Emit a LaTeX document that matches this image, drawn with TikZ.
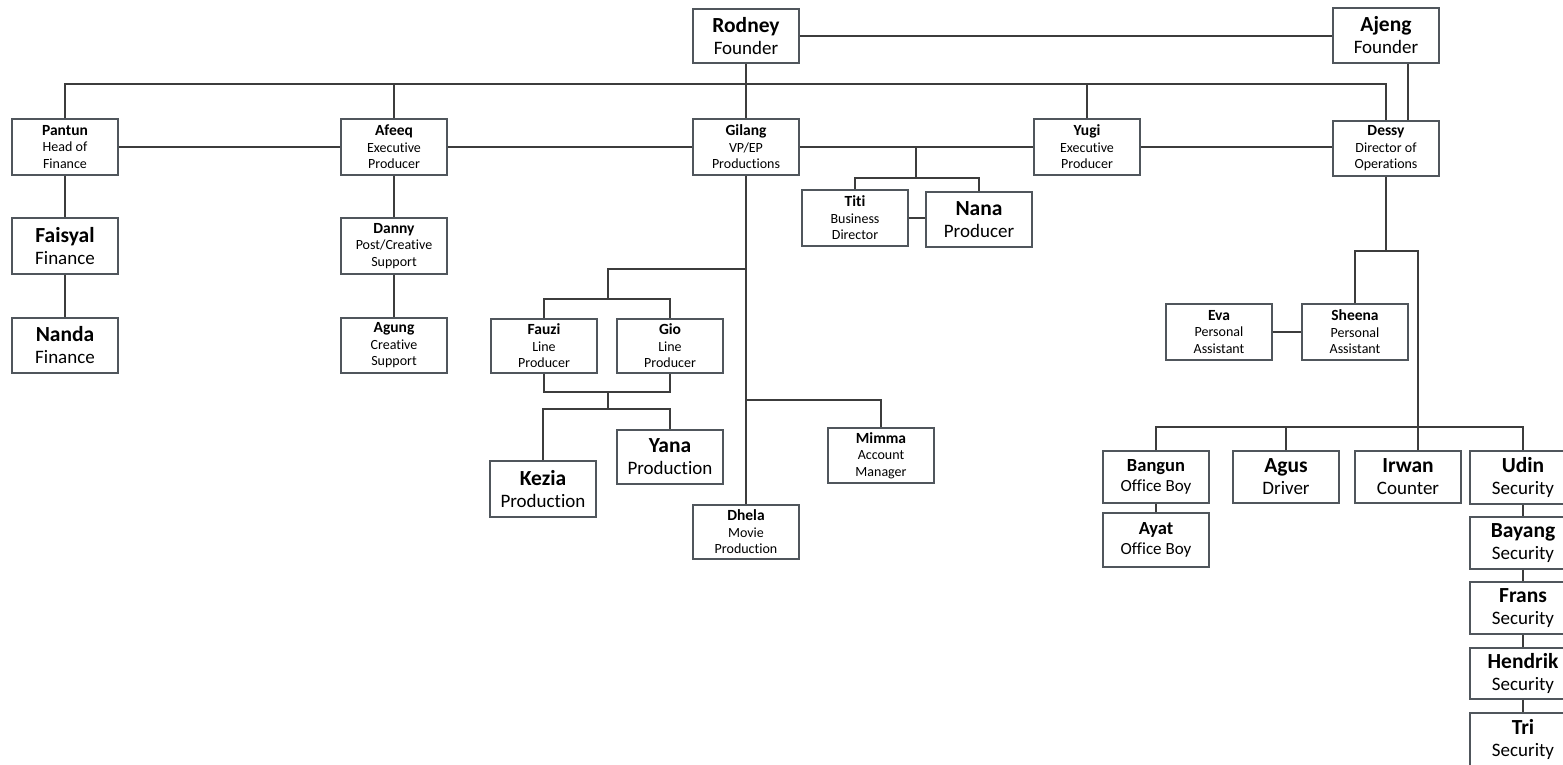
\documentclass[tikz,border=0pt]{standalone}
\usepackage{fontspec}
\setmainfont{Carlito}[Ligatures=NoCommon]
\definecolor{linec}{HTML}{3C3C3C}
\definecolor{boxc}{HTML}{50565C}
\newcommand\snm[1]{{\fontsize{15.5}{16.5}\selectfont\bfseries #1}}
\newcommand\bnm[1]{{\fontsize{21.5}{22}\selectfont\bfseries #1}}
\newcommand\mnm[1]{{\fontsize{18.5}{20}\selectfont\bfseries #1}}
\begin{document}
\begin{tikzpicture}[x=1pt,y=-1pt,
  conn/.style={draw=linec,line width=1.5pt},
  basebox/.style={draw=boxc,line width=1.4pt,rectangle,inner sep=0pt,
    minimum width=106pt,minimum height=55pt,align=center,text=black},
  sbox/.style={basebox,font=\fontsize{14}{16.5}\selectfont},
  bbox/.style={basebox,font=\fontsize{19}{22}\selectfont},
  mbox/.style={basebox,font=\fontsize{17}{20.5}\selectfont,minimum height=52pt},
  rbox/.style={basebox,font=\fontsize{19}{22}\selectfont,minimum height=52pt}
]
\fill[white] (0,0) rectangle (1563,764);
\clip (0,0) rectangle (1563,764);
\useasboundingbox (0,0) rectangle (1563,764);

% top
\node[bbox,minimum height=54pt] (Rodney) at (746,36) {\bnm{Rodney}\\Founder};
\node[bbox] (Ajeng) at (1386,35.5) {\bnm{Ajeng}\\Founder};

% second row
\node[sbox,minimum height=56pt] (Pantun) at (65,147) {\snm{Pantun}\\Head of\\Finance};
\node[sbox,minimum height=56pt] (Afeeq) at (394,147) {\snm{Afeeq}\\Executive\\Producer};
\node[sbox,minimum height=56pt] (Gilang) at (746,147) {\snm{Gilang}\\VP/EP\\Productions};
\node[sbox,minimum height=56pt] (Yugi) at (1087,147) {\snm{Yugi}\\Executive\\Producer};
\node[sbox] (Dessy) at (1386,148.5) {\snm{Dessy}\\Director of\\Operations};

% finance
\node[bbox,minimum height=56pt] (Faisyal) at (65,246) {\bnm{Faisyal}\\Finance};
\node[bbox] (Nanda) at (65,345.5) {\bnm{Nanda}\\Finance};

% Afeeq team
\node[sbox,minimum height=56pt] (Danny) at (394,246) {\snm{Danny}\\Post/Creative\\Support};
\node[sbox] (Agung) at (394,345.5) {\snm{Agung}\\Creative\\Support};

% Titi / Nana
\node[sbox,minimum height=56pt] (Titi) at (855,218) {\snm{Titi}\\Business\\Director};
\node[bbox] (Nana) at (979,219.5) {\bnm{Nana}\\Producer};

% production
\node[sbox,minimum height=54pt] (Fauzi) at (544,346) {\snm{Fauzi}\\Line\\Producer};
\node[sbox,minimum height=54pt] (Gio) at (670,346) {\snm{Gio}\\Line\\Producer};
\node[bbox,minimum height=56pt] (Kezia) at (543,489) {\bnm{Kezia}\\Production};
\node[bbox,minimum height=54pt] (Yana) at (670,457) {\bnm{Yana}\\Production};
\node[sbox] (Mimma) at (881,455.5) {\snm{Mimma}\\Account\\Manager};
\node[sbox,minimum height=54pt] (Dhela) at (746,532) {\snm{Dhela}\\Movie\\Production};

% operations
\node[sbox,minimum height=56pt] (Eva) at (1219,332) {\snm{Eva}\\Personal\\Assistant};
\node[sbox,minimum height=56pt] (Sheena) at (1355,332) {\snm{Sheena}\\Personal\\Assistant};

\node[mbox] (Bangun) at (1156,477) {\mnm{Bangun}\\Office Boy};
\node[mbox,minimum height=54pt] (Ayat) at (1156,540) {\mnm{Ayat}\\Office Boy};
\node[rbox] (Agus) at (1286,477) {\bnm{Agus}\\Driver};
\node[rbox] (Irwan) at (1408,477) {\bnm{Irwan}\\Counter};
\node[rbox,minimum height=53pt] (Udin) at (1523,477.5) {\bnm{Udin}\\Security};
\node[rbox] (Bayang) at (1523,543) {\bnm{Bayang}\\Security};
\node[rbox] (Frans) at (1523,608) {\bnm{Frans}\\Security};
\node[rbox,minimum height=51pt] (Hendrik) at (1523,673.5) {\bnm{Hendrik}\\Security};
\node[rbox,minimum height=53pt] (Tri) at (1523,739.5) {\bnm{Tri}\\Security};

% coordinates
\coordinate (busR) at (1386,84);
\coordinate (tn) at (916,147);
\coordinate (tnj) at (916,178);
\coordinate (fg1) at (746,269);
\coordinate (fg2) at (608,299);
\coordinate (fg3) at (608,392);
\coordinate (fg4) at (608,409);
\coordinate (mm) at (746,400);
\coordinate (d1) at (1386,251);
\coordinate (d2) at (1418,251);
\coordinate (b1) at (1418,427);

% connectors
\draw[conn] (Rodney.east) -- (Rodney.east -| Ajeng.west);
\draw[conn] (Pantun.north) |- (busR) -- (Dessy.north);
\draw[conn] (Afeeq.north) -- (Afeeq.north |- busR);
\draw[conn] (Yugi.north) -- (Yugi.north |- busR);
\draw[conn] (Rodney.south) -- (Gilang.north);
\draw[conn] ([xshift=22pt]Ajeng.south) -- ([xshift=22pt]Dessy.north);

\draw[conn] (Pantun.east) -- (Afeeq.west);
\draw[conn] (Afeeq.east) -- (Gilang.west);
\draw[conn] (Gilang.east) -- (Yugi.west);
\draw[conn] (Yugi.east) -- (Yugi.east -| Dessy.west);

\draw[conn] (Pantun.south) -- (Faisyal.north);
\draw[conn] (Faisyal.south) -- (Nanda.north);
\draw[conn] (Afeeq.south) -- (Danny.north);
\draw[conn] (Danny.south) -- (Agung.north);

\draw[conn] (tn) -- (tnj);
\draw[conn] (Titi.north) |- (tnj) -| (Nana.north);
\draw[conn] (Titi.east) -- (Titi.east -| Nana.west);

\draw[conn] (Gilang.south) -- (Dhela.north);
\draw[conn] (fg1) -| (fg2);
\draw[conn] (Fauzi.north) |- (fg2) -| (Gio.north);
\draw[conn] (Fauzi.south) |- (fg3) -| (Gio.south);
\draw[conn] (fg3) -- (fg4);
\draw[conn] (Kezia.north) |- (fg4) -| (Yana.north);
\draw[conn] (mm) -| (Mimma.north);

\draw[conn] (Dessy.south) -- (d1);
\draw[conn] (Sheena.north) |- (d2) -- (d2 |- Irwan.north);
\draw[conn] (Eva.east) -- (Sheena.west);
\draw[conn] (Bangun.north) |- (b1) -| (Udin.north);
\draw[conn] (Agus.north) -- (Agus.north |- b1);
\draw[conn] (Bangun.south) -- (Ayat.north);
\draw[conn] (Udin.south) -- (Bayang.north);
\draw[conn] (Bayang.south) -- (Frans.north);
\draw[conn] (Frans.south) -- (Hendrik.north);
\draw[conn] (Hendrik.south) -- (Tri.north);
\end{tikzpicture}
\end{document}
